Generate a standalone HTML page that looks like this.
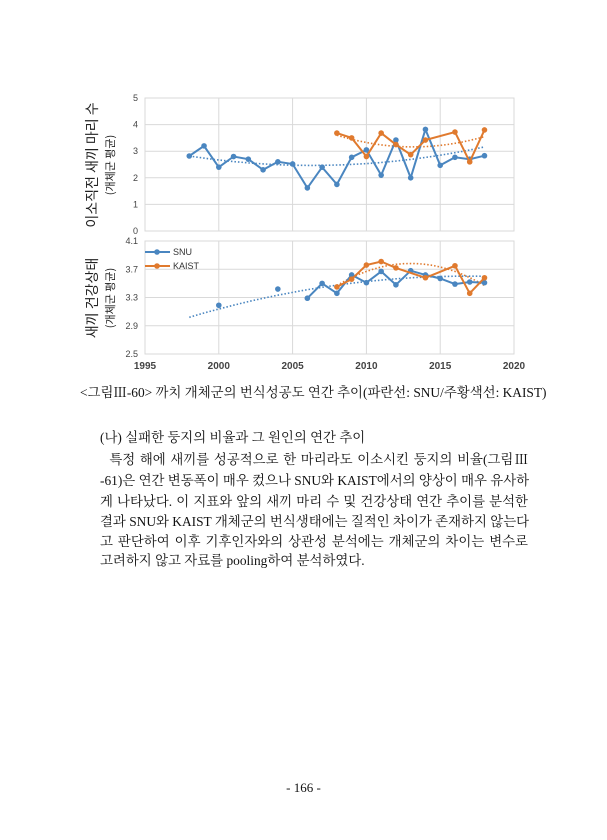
<!DOCTYPE html>
<html><head><meta charset="utf-8">
<style>
body{margin:0;background:#fff;width:607px;height:840px;position:relative;overflow:hidden;font-family:"Liberation Serif","Noto Serif CJK KR",serif;color:#111}
svg{position:absolute;left:0;top:0}
.t{position:absolute;left:100px;width:428px;font-size:13.4px;line-height:20.4px;text-align:justify;text-align-last:justify;white-space:nowrap}
.l{text-align-last:left}
</style></head><body>
<svg id="s" width="607" height="380" font-family="Liberation Sans, sans-serif"></svg>
<div class="t" style="top:383px;left:80px;width:448px">&lt;그림Ⅲ-60&gt; 까치 개체군의 번식성공도 연간 추이(파란선: SNU/주황색선: KAIST)</div>
<div class="t l" style="top:428px">(나) 실패한 둥지의 비율과 그 원인의 연간 추이</div>
<div class="t" style="top:450px">&nbsp;&nbsp;특정 해에 새끼를 성공적으로 한 마리라도 이소시킨 둥지의 비율(그림Ⅲ</div>
<div class="t" style="top:471px">-61)은 연간 변동폭이 매우 컸으나 SNU와 KAIST에서의 양상이 매우 유사하</div>
<div class="t" style="top:492px">게 나타났다. 이 지표와 앞의 새끼 마리 수 및 건강상태 연간 추이를 분석한</div>
<div class="t" style="top:512px">결과 SNU와 KAIST 개체군의 번식생태에는 질적인 차이가 존재하지 않는다</div>
<div class="t" style="top:532px">고 판단하여 이후 기후인자와의 상관성 분석에는 개체군의 차이는 변수로</div>
<div class="t l" style="top:551px">고려하지 않고 자료를 pooling하여 분석하였다.</div>
<div style="position:absolute;top:780px;left:0;width:607px;text-align:center;font-size:13px">- 166 -</div>
<script>
var s=document.getElementById('s'),h='';
function X(y){return 145+(y-1995)*14.76}
var B='#4a86c0',O='#e07a2e';
// top plot
function TY(v){return 231-v*26.6}
function BY(v){return 354-(v-2.5)*70.6}
h+='<rect x="145" y="98" width="369" height="133" fill="none" stroke="#d9d9d9"/>';
h+='<rect x="145" y="241" width="369" height="113" fill="none" stroke="#d9d9d9"/>';
[2000,2005,2010,2015].forEach(function(y){h+='<line x1="'+X(y)+'" y1="98" x2="'+X(y)+'" y2="231" stroke="#d9d9d9"/><line x1="'+X(y)+'" y1="241" x2="'+X(y)+'" y2="354" stroke="#d9d9d9"/>'});
for(var v=1;v<5;v++)h+='<line x1="145" y1="'+TY(v)+'" x2="514" y2="'+TY(v)+'" stroke="#d9d9d9"/>';
[2.9,3.3,3.7].forEach(function(v){h+='<line x1="145" y1="'+BY(v)+'" x2="514" y2="'+BY(v)+'" stroke="#d9d9d9"/>'});
for(var v=0;v<=5;v++)h+='<text x="138" y="'+(TY(v)+3)+'" font-size="9" text-anchor="end" fill="#444">'+v+'</text>';
['2.5','2.9','3.3','3.7','4.1'].forEach(function(v){h+='<text x="138" y="'+(BY(+v)+3)+'" font-size="9" text-anchor="end" fill="#444">'+v+'</text>'});
[1995,2000,2005,2010,2015,2020].forEach(function(y){h+='<text x="'+X(y)+'" y="369" font-size="10" font-weight="bold" text-anchor="middle" fill="#444">'+y+'</text>'});
function line(d,f,c){var p='';d.forEach(function(a,i){p+=(i?'L':'M')+X(a[0]).toFixed(1)+' '+f(a[1]).toFixed(1)});h+='<path d="'+p+'" fill="none" stroke="'+c+'" stroke-width="2"/>';d.forEach(function(a){h+='<circle cx="'+X(a[0])+'" cy="'+f(a[1])+'" r="2.8" fill="'+c+'"/>'})}
function trend(d,f,c){var p='';d.forEach(function(a,i){p+=(i?'L':'M')+X(a[0]).toFixed(1)+' '+f(a[1]).toFixed(1)});h+='<path d="'+p+'" fill="none" stroke="'+c+'" stroke-width="1.6" stroke-dasharray="1.5 2"/>'}
function quad(x0,x1,a,b,c){var r=[];for(var x=x0;x<=x1+0.01;x+=0.5){r.push([x,a+b*(x-x0)+c*(x-x0)*(x-x0)])}return r}
var st=[[1998,2.82],[1999,3.2],[2000,2.4],[2001,2.8],[2002,2.7],[2003,2.3],[2004,2.6],[2005,2.52],[2006,1.62],[2007,2.4],[2008,1.75],[2009,2.77],[2010,3.05],[2011,2.1],[2012,3.42],[2013,2.0],[2014,3.82],[2015,2.47],[2016,2.77],[2017,2.7],[2018,2.83]];
var kt=[[2008,3.68],[2009,3.5],[2010,2.8],[2011,3.68],[2012,3.25],[2013,2.87],[2014,3.42],[2016,3.72],[2017,2.6],[2018,3.8]];
trend(quad(1998,2018,2.82,-0.085,0.0051),TY,B);
trend(quad(2008,2018,3.6,-0.17,0.0165),TY,O);
line(st,TY,B);line(kt,TY,O);
var sb=[[2006,3.29],[2007,3.5],[2008,3.36],[2009,3.62],[2010,3.51],[2011,3.67],[2012,3.48],[2013,3.68],[2014,3.62],[2015,3.57],[2016,3.49],[2017,3.52],[2018,3.51]];
var kb=[[2008,3.45],[2009,3.56],[2010,3.76],[2011,3.81],[2012,3.72],[2014,3.58],[2016,3.75],[2017,3.36],[2018,3.58]];
trend(quad(1998,2018,3.02,0.062,-0.00165),BY,B);
trend(quad(2008,2018,3.47,0.125,-0.0125),BY,O);
line(sb,BY,B);line(kb,BY,O);
[[2000,3.19],[2004,3.42]].forEach(function(a){h+='<circle cx="'+X(a[0])+'" cy="'+BY(a[1])+'" r="2.8" fill="'+B+'"/>'});
// legend
h+='<line x1="145" y1="252" x2="170" y2="252" stroke="'+B+'" stroke-width="2"/><circle cx="157" cy="252" r="2.8" fill="'+B+'"/><text x="173" y="255" font-size="9" fill="#333">SNU</text>';
h+='<line x1="145" y1="266" x2="170" y2="266" stroke="'+O+'" stroke-width="2"/><circle cx="157" cy="266" r="2.8" fill="'+O+'"/><text x="173" y="269" font-size="9" fill="#333">KAIST</text>';
// y labels
h+='<text transform="translate(97,165) rotate(-90)" font-size="14" text-anchor="middle" fill="#222" font-family="Noto Sans CJK KR, sans-serif">이소직전 새끼 마리 수</text>';
h+='<text transform="translate(114,165) rotate(-90)" font-size="11" text-anchor="middle" fill="#222" font-family="Noto Sans CJK KR, sans-serif">(개체군 평균)</text>';
h+='<text transform="translate(97,298) rotate(-90)" font-size="14" text-anchor="middle" fill="#222" font-family="Noto Sans CJK KR, sans-serif">새끼 건강상태</text>';
h+='<text transform="translate(114,298) rotate(-90)" font-size="11" text-anchor="middle" fill="#222" font-family="Noto Sans CJK KR, sans-serif">(개체군 평균)</text>';
s.innerHTML=h;
</script>
</body></html>
